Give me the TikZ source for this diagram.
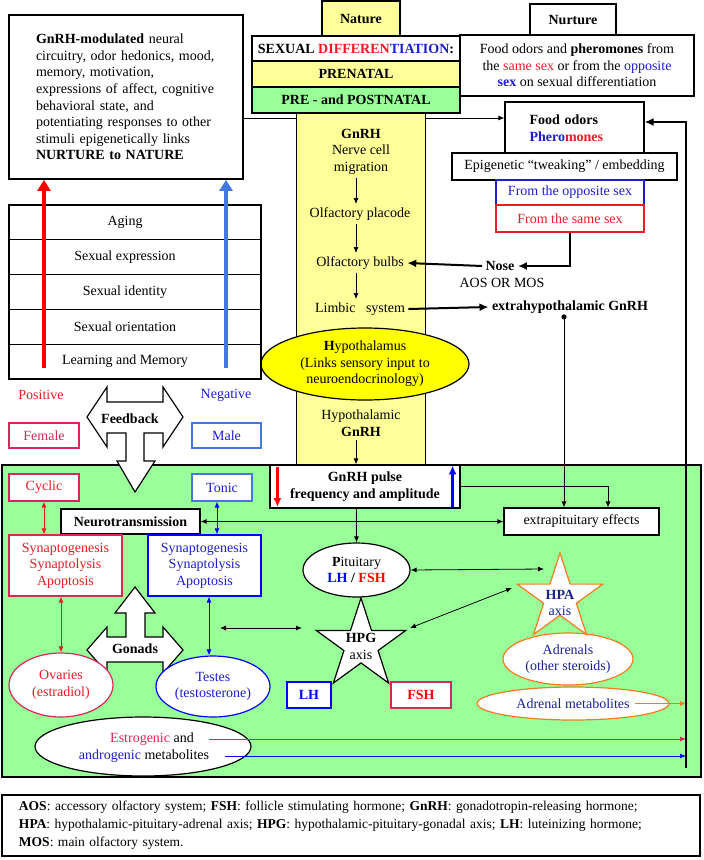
\documentclass[tikz,border=0pt]{standalone}
\usepackage{fontspec}
\setmainfont{Liberation Serif}
\usetikzlibrary{shapes.geometric,arrows.meta,positioning}

\definecolor{palegrn}{RGB}{153,255,153}
\definecolor{paleyel}{RGB}{255,255,153}
\definecolor{hypoyel}{RGB}{255,255,0}
\definecolor{tred}{RGB}{232,28,36}
\definecolor{crim}{RGB}{214,40,90}
\definecolor{tblue}{RGB}{30,30,205}
\definecolor{lblue}{RGB}{66,120,230}
\definecolor{navy}{RGB}{25,35,140}
\definecolor{orng}{RGB}{240,125,30}

\newcommand{\mainfs}{\fontsize{14}{16.6}\selectfont}
\newcommand{\footfs}{\fontsize{13.5}{18}\selectfont}

\begin{document}
\begin{tikzpicture}[x=1pt, y=-1pt, font=\mainfs,
  box/.style={draw, fill=white, line width=1.2pt, inner sep=0pt, align=center},
  oval/.style={ellipse, draw, fill=white, line width=1.2pt, inner sep=0pt, align=center},
  arr/.style={-{Latex[length=6pt,width=5pt]}, line width=0.8pt},
  dbl/.style={{Latex[length=6pt,width=5pt]}-{Latex[length=6pt,width=5pt]}, line width=0.8pt},
  tarr/.style={-{Latex[length=9pt,width=8pt]}, line width=2pt},
  fatarr/.style={-{Triangle[length=11pt,width=13pt]}, line width=3.5pt},
  pulsearr/.style={-{Latex[length=9pt,width=8pt]}, line width=2.6pt},
  starbox/.style={star, star points=5, star point ratio=2.618, draw, fill=white, line width=1.2pt, inner sep=0pt}]

 \useasboundingbox (0,0) rectangle (704,860);

 % green region
 \node[draw, fill=palegrn, line width=1.2pt, minimum width=699, minimum height=312, inner sep=0pt] (green) at (351.5,621) {};

 % NURTURE side
 \node[box, font=\mainfs\bfseries, minimum width=86, minimum height=31] (nurture) at (573,19.5) {Nurture};
 \node[box, minimum width=234, minimum height=61] (foodpher) at (577,65.5)
   {Food odors and \textbf{pheromones} from\\the \textcolor{tred}{same sex} or from the \textcolor{tblue}{opposite}\\\textcolor{tblue}{\textbf{sex}} on sexual differentiation};
 \node[box, minimum width=139, minimum height=53, text width=90, align=left] (food) at (574.5,128.5)
   {\textbf{Food odors}\\\textbf{\textcolor{tblue}{Phero}\textcolor{tred}{mones}}};
 \node[box, minimum width=225, minimum height=27] (tweak) at (564.5,166.5) {Epigenetic “tweaking” / embedding};
 \node[box, draw=tblue, text=tblue, minimum width=148, minimum height=25] (oppsex) at (570,192.5) {From the opposite sex};
 \node[box, draw=tred, text=tred, minimum width=148, minimum height=27] (samesex) at (570,218.5) {From the same sex};

 % NATURE side
 \node[box, line width=1.8pt, minimum width=234, minimum height=164, text width=180, align=left] (gnrhmod) at (126,97)
   {\textbf{GnRH-modulated} neural\\circuitry, odor hedonics, mood,\\memory, motivation,\\expressions of affect, cognitive\\behavioral state, and\\potentiating responses to other\\stimuli epigenetically links\\\textbf{NURTURE to NATURE}};
 \draw[arr] ([yshift=-21pt]gnrhmod.east) -- ([yshift=-21pt]gnrhmod.east -| food.west);

 % GnRH column
 \node[draw, fill=paleyel, line width=1pt, minimum width=129, minimum height=352, inner sep=0pt] (column) at (360.5,289) {};
 \node[box, fill=paleyel, font=\mainfs\bfseries, minimum width=78, minimum height=35] (nature) at (361,18.5) {Nature};
 \node[box, font=\mainfs\bfseries, minimum width=208, minimum height=25] (sexdiff) at (356,48.5)
   {SEXUAL \textcolor{tred}{DIFFEREN}\textcolor{tblue}{TIATION}:};
 \node[box, fill=paleyel, font=\mainfs\bfseries, minimum width=208, minimum height=26] (prenatal) at (356,74) {PRENATAL};
 \node[box, fill=palegrn, font=\mainfs\bfseries, minimum width=208, minimum height=26] (postnatal) at (356,100) {PRE - and POSTNATAL};

 \coordinate (colx) at (356,0);
 \node[align=center] (migr) at (361,151.5) {\textbf{GnRH}\\Nerve cell\\migration};
 \node (placode) at (360,214) {Olfactory placode};
 \node (bulbs) at (360,263) {Olfactory bulbs};
 \node (limbic) at (360,309) {Limbic\ \ \ system};
 \draw[arr] (migr.south -| colx) -- (placode.north -| colx);
 \draw[arr] (placode.south -| colx) -- (bulbs.north -| colx);
 \draw[arr] (bulbs.south -| colx) -- (limbic.north -| colx);

 \node[oval, fill=hypoyel, minimum width=208, minimum height=72] (hypo) at (365,364)
   {\textbf{H}ypothalamus\\(Links sensory input to\\neuroendocrinology)};
 \node[align=center] (hypgnrh) at (361,423.5) {Hypothalamic\\\textbf{GnRH}};
 \node[box, font=\mainfs\bfseries, minimum width=190, minimum height=43] (pulse) at (365,486.5) {GnRH pulse\\frequency and amplitude};
 \draw[arr] (hypgnrh.south -| colx) -- (pulse.north -| colx);
 \draw[pulsearr, red] ([xshift=8pt,yshift=-3pt]pulse.north west) -- ([xshift=8pt,yshift=1.5pt]pulse.south west);
 \draw[pulsearr, blue] ([xshift=-8pt,yshift=1.5pt]pulse.south east) -- ([xshift=-8pt,yshift=-1pt]pulse.north east);

 % nose and extrahypothalamic GnRH
 \node[font=\mainfs\bfseries] (nose) at (500,266) {Nose};
 \node (aosmos) at (502,283) {AOS OR MOS};
 \node[font=\mainfs\bfseries] (extrahyp) at (570,307) {extrahypothalamic GnRH};
 \draw[tarr] (samesex.south) |- (nose.east);
 \draw[tarr] (nose.west) -- (bulbs.east);
 \draw[tarr] (limbic.east) -- (extrahyp.west);

 % traits table
 \foreach \txt [count=\i] in {Aging, Sexual expression, Sexual identity, Sexual orientation, Learning and Memory}{
   \node[box, minimum width=252, minimum height=34.8] (row\i) at (135,187.6+34.8*\i) {};
   \node (rowtxt\i) at (125,187.6+34.8*\i) {\txt};
 }
 \coordinate (posfoot) at (44,368);
 \coordinate (negfoot) at (226,368);
 \draw[fatarr, red] (posfoot) -- (posfoot |- gnrhmod.south);
 \draw[fatarr, lblue] (negfoot) -- (negfoot |- gnrhmod.south);

 % feedback
 \node[text=tred] (positive) at (41,395) {Positive};
 \node[text=tblue] (negative) at (226,395) {Negative};
 \node[box, draw=crim, text=crim, minimum width=70, minimum height=25] (female) at (44,435.5) {Female};
 \node[box, draw=lblue, text=tblue, minimum width=69, minimum height=25] (male) at (226.5,435.5) {Male};
 \draw[fill=white, line width=1.2pt] (87,417) -- (107,387) -- (107,402) -- (163,402) -- (163,387) -- (183,417)
   -- (163,447) -- (163,433) -- (144,433) -- (144,461) -- (155,461) -- (135,492) -- (117,461) -- (126,461)
   -- (126,433) -- (107,433) -- (107,447) -- cycle;
 \node[font=\mainfs\bfseries] (feedback) at (130,419) {Feedback};

 % neurotransmission
 \node[box, draw=crim, text=tred, minimum width=70, minimum height=27] (cyclic) at (44,487.5) {Cyclic};
 \node[box, draw=lblue, text=tblue, minimum width=60, minimum height=27] (tonic) at (222,487.5) {Tonic};
 \node[box, font=\mainfs\bfseries, minimum width=139, minimum height=25] (neuro) at (130.5,521.5) {Neurotransmission};
 \node[box, draw=crim, text=tred, minimum width=113, minimum height=61] (redsyn) at (65.5,565.5) {Synaptogenesis\\Synaptolysis\\Apoptosis};
 \node[box, draw=blue, text=tblue, minimum width=113, minimum height=61] (bluesyn) at (204.5,565.5) {Synaptogenesis\\Synaptolysis\\Apoptosis};
 \draw[dbl, tred] (cyclic.south) -- (cyclic.south |- redsyn.north);
 \draw[dbl, blue] ([xshift=-5pt]tonic.south) -- ([xshift=-5pt]tonic.south |- bluesyn.north);

 % gonads
 \draw[fill=white, line width=1.2pt] (135,587) -- (155,613) -- (145,613) -- (145,637) -- (163,637) -- (163,627) -- (183,650)
   -- (163,673) -- (163,662) -- (107,662) -- (107,673) -- (87,650) -- (107,627) -- (107,637) -- (126,637)
   -- (126,613) -- (115,613) -- cycle;
 \node[font=\mainfs\bfseries] (gonads) at (135,649) {Gonads};
 \node[oval, draw=crim, text=tred, minimum width=104, minimum height=64] (ovaries) at (61,685) {Ovaries\\(estradiol)};
 \node[oval, draw=blue, text=tblue, minimum width=114, minimum height=61] (testes) at (213,686.5) {Testes\\(testosterone)};
 \draw[dbl, tred] (ovaries.north |- redsyn.south) -- (ovaries.north);
 \draw[dbl, blue] ([xshift=-4pt]testes.north |- bluesyn.south) -- ([xshift=-4pt]testes.north);

 % pituitary and axes
 \node[oval, minimum width=107, minimum height=54] (pit) at (356.5,570)
   {\textbf{P}ituitary\\\textbf{\textcolor{blue}{LH} / \textcolor{red}{FSH}}};
 \node[box, minimum width=155, minimum height=27] (extra) at (581.5,521.5) {extrapituitary effects};
 \draw[arr] (pulse.south -| pit.north) -- (pit.north);
 \draw[arr] (pulse.east) -| ([xshift=26.5pt]extra.north);
 \coordinate (xdot) at ([xshift=-6pt]extrahyp.south);
 \fill (xdot) circle (2.6);
 \draw[arr] (xdot) -- (xdot |- extra.north);
 \draw[dbl] (neuro.east) -- (extra.west);

 \node[starbox, minimum size=94] (hpg) at (361,645) {};
 \node[align=center] (hpglbl) at (361,646.5) {\textbf{HPG}\\axis};
 \node[box, draw=blue, text=blue, font=\mainfs\bfseries, minimum width=44, minimum height=26] (lh) at (309,695) {LH};
 \node[box, draw=crim, text=red, font=\mainfs\bfseries, minimum width=60, minimum height=26] (fsh) at (421,695) {FSH};

 \node[oval, draw=orng, text=navy, minimum width=130, minimum height=52] (adrenals) at (568,659) {Adrenals\\(other steroids)};
 \node[starbox, draw=orng, minimum size=90] (hpa) at (560,598) {};
 \node[align=center, text=navy] (hpalbl) at (560,603) {\textbf{HPA}\\axis};
 \node[oval, draw=orng, text=navy, minimum width=192, minimum height=33] (admet) at (573,703.5) {Adrenal metabolites};

 \coordinate (gonE) at (220,628);
 \coordinate (hpgW) at (302,628);
 \coordinate (hpgE) at (410,628);
 \coordinate (hpaW) at (544,569);
 \coordinate (hpaSW) at (512,588);
 \draw[dbl] (gonE) -- (hpgW);
 \draw[dbl] (pit.east) -- (hpaW);
 \draw[dbl] (hpgE) -- (hpaSW);

 % metabolites feeding back to nurture
 \node[oval, minimum width=216, minimum height=59] (estro) at (143,746.5) {};
 \node (estr1) at (152,739) {\textcolor{crim}{Estrogenic} and};
 \node (estr2) at (144,756) {\textcolor{tblue}{androgenic} metabolites};
 \coordinate (rbot) at (686,768);
 \draw[arr, crim] ([xshift=12pt]estr1.east) -- (estr1.east -| rbot);
 \draw[arr, blue] ([xshift=12pt]estr2.east) -- (estr2.east -| rbot);
 \draw[arr, orng] ([xshift=-35pt]admet.east) -- (admet.east -| rbot);
 \draw[tarr] (rbot) |- ([yshift=6.5pt]food.east);

 % legend
 \node[box, font=\footfs, minimum width=698, minimum height=61, text width=664, align=left] (legend) at (351,825.5)
   {\textbf{AOS}: accessory olfactory system; \textbf{FSH}: follicle stimulating hormone; \textbf{GnRH}: gonadotropin-releasing hormone;\\
    \textbf{HPA}: hypothalamic-pituitary-adrenal axis; \textbf{HPG}: hypothalamic-pituitary-gonadal axis; \textbf{LH}: luteinizing hormone;\\
    \textbf{MOS}: main olfactory system.};

\end{tikzpicture}
\end{document}
